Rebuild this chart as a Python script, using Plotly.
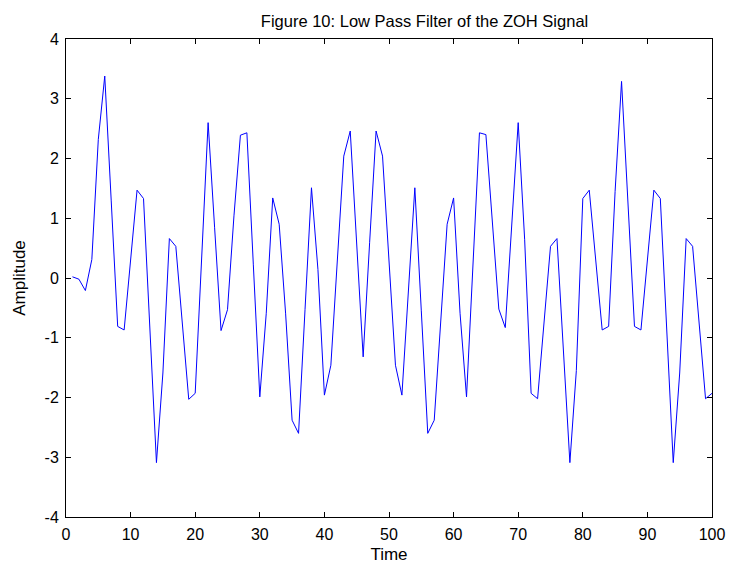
import plotly.graph_objects as go

time = list(range(1, 101))
amplitude = [
    0.02, -0.02, -0.21, 0.31, 2.32, 3.38, 1.29, -0.81, -0.87, 0.30,
    1.47, 1.33, -0.88, -3.09, -1.59, 0.66, 0.53, -0.75, -2.03, -1.93,
    0.34, 2.60, 0.85, -0.88, -0.53, 1.04, 2.39, 2.43, 0.22, -1.99,
    -0.59, 1.34, 0.90, -0.60, -2.38, -2.60, -0.53, 1.51, 0.14, -1.96,
    -1.46, 0.31, 2.04, 2.46, 0.59, -1.32, 0.59, 2.46, 2.04, 0.29,
    -1.46, -1.96, -0.22, 1.51, -0.55, -2.60, -2.38, -0.70, 0.90, 1.34,
    -0.59, -1.99, 0.22, 2.43, 2.40, 0.98, -0.52, -0.83, 0.89, 2.60,
    0.64, -1.93, -2.02, -0.75, 0.53, 0.66, -1.20, -3.09, -1.55, 1.33,
    1.47, 0.30, -0.87, -0.81, 1.45, 3.29, 1.20, -0.81, -0.87, 0.30,
    1.47, 1.33, -0.88, -3.09, -1.59, 0.66, 0.53, -0.75, -2.02, -1.93,
]
x_ticks = list(range(0, 101, 10))
y_ticks = list(range(-4, 5))

title_text = "Figure 10: Low Pass Filter of the ZOH Signal"
x_label = "Time"
y_label = "Amplitude"

font_family = "Liberation Sans, Arial, sans-serif"

fig = go.Figure()
fig.add_trace(go.Scatter(
    x=time, y=amplitude, mode="lines",
    line=dict(color="#0000FF", width=1),
    showlegend=False, hoverinfo="skip", cliponaxis=True,
))

axis_common = dict(
    showgrid=False, zeroline=False, automargin=False,
    showline=True, linecolor="black", linewidth=1, mirror="allticks",
    ticks="inside", ticklen=5, tickwidth=1, tickcolor="black",
    tickfont=dict(family=font_family, size=16, color="black"),
    ticklabelstandoff=3,
)

fig.update_layout(
    width=730, height=564,
    margin=dict(l=66, r=18, t=39, b=47),
    paper_bgcolor="white", plot_bgcolor="white",
    font=dict(family=font_family, size=16, color="black"),
    title=dict(text=title_text, xref="paper", x=0.555, xanchor="center",
               yref="container", y=0.963, yanchor="middle",
               font=dict(family=font_family, size=16.5, color="black")),
    xaxis=dict(range=[0, 100], tickvals=x_ticks, ticktext=[str(v) for v in x_ticks],
               title=dict(text=x_label, standoff=8, font=dict(size=17)), **axis_common),
    yaxis=dict(range=[-4, 4], tickvals=y_ticks, ticktext=[str(v) for v in y_ticks],
               title=dict(text=y_label, standoff=14, font=dict(size=17)), **axis_common),
)

fig.write_html("out.html")
